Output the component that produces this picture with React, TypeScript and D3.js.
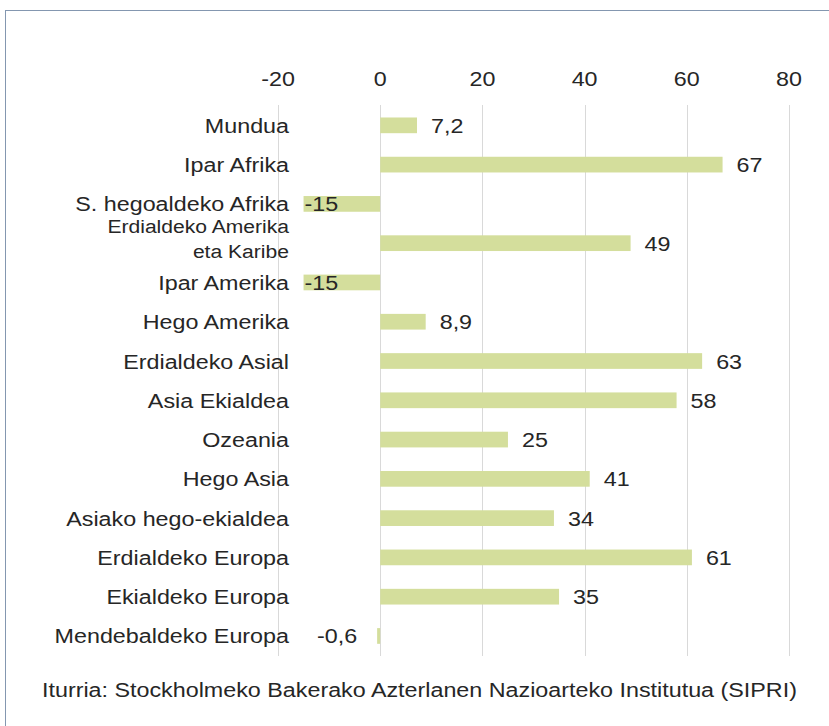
import React from 'react'
import * as d3 from 'd3'

// Regions (Basque labels) and change values
const categories = [
  'Mundua',
  'Ipar Afrika',
  'S. hegoaldeko Afrika',
  'Erdialdeko Amerika|eta Karibe',
  'Ipar Amerika',
  'Hego Amerika',
  'Erdialdeko Asial',
  'Asia Ekialdea',
  'Ozeania',
  'Hego Asia',
  'Asiako hego-ekialdea',
  'Erdialdeko Europa',
  'Ekialdeko Europa',
  'Mendebaldeko Europa',
]
const values = [7.2, 67, -15, 49, -15, 8.9, 63, 58, 25, 41, 34, 61, 35, -0.6]
const ticks = [-20, 0, 20, 40, 60, 80]
const source = 'Iturria: Stockholmeko Bakerako Azterlanen Nazioarteko Institutua (SIPRI)'

const W = 829, H = 726
const FONT = '"Liberation Sans", Arial, sans-serif'
const FS = 21
const SX = 1.11 // the reference text is stretched horizontally
const TXT = '#262626'
const BAR = '#d4de9c'
const GRID = '#d9d9d9'

export default function App() {
  const x = d3.scaleLinear().domain([-20, 80]).range([278, 789])
  const y = d3.scaleBand<string>().domain(categories).range([105.7, 655.6]).paddingInner(0.6).paddingOuter(0.3)
  const [y0, y1] = [105, 656]
  const fmt = (v: number) => String(v).replace('.', ',')

  const txt = (tx: number, ty: number, s: string, anchor: string, size = FS, key?: any) => (
    <text key={key} transform={`translate(${tx},${ty}) scale(${SX},1)`} textAnchor={anchor}
      fontFamily={FONT} fontSize={size} fill={TXT}>{s}</text>
  )

  return (
    <svg width={W} height={H} style={{ position: 'absolute', left: 0, top: 0, background: '#fff' }}>
      <rect x={5.5} y={10.5} width={W + 20} height={H + 20} fill="#fff" stroke="#8497b0" strokeWidth={1} />

      {/* gridlines + top axis labels */}
      {ticks.map(t => (
        <g key={t}>
          <line x1={Math.round(x(t)) + 0.5} x2={Math.round(x(t)) + 0.5} y1={y0} y2={y1} stroke={GRID} strokeWidth={1} />
          {txt(x(t), 86, String(t), 'middle', FS, 't' + t)}
        </g>
      ))}

      {/* bars */}
      {categories.map((c, i) => {
        const v = values[i]
        return (
          <rect key={c} x={x(Math.min(0, v))} y={y(c)!} width={Math.abs(x(v) - x(0))} height={y.bandwidth()} fill={BAR} />
        )
      })}

      {/* category labels */}
      {categories.map(c => {
        const cy = y(c)! + y.bandwidth() / 2
        const lines = c.split('|')
        if (lines.length > 1) {
          return (
            <g key={c}>
              {lines.map((l, j) => txt(289, cy + 2 + (j - (lines.length - 1) / 2) * 25, l, 'end', FS - 2, j))}
            </g>
          )
        }
        return <g key={c}>{txt(289, cy + 7.5, c, 'end')}</g>
      })}

      {/* value labels */}
      {categories.map((c, i) => {
        const v = values[i]
        const cy = y(c)! + y.bandwidth() / 2 + 7.5
        if (v >= 0) return <g key={c}>{txt(x(v) + 14, cy, fmt(v), 'start')}</g>
        if (v < -5) return <g key={c}>{txt(x(v) + 1, cy, fmt(v), 'start')}</g>
        return <g key={c}>{txt(x(v) - 20, cy, fmt(v), 'end')}</g>
      })}

      {txt(42, 697, source, 'start')}
    </svg>
  )
}
